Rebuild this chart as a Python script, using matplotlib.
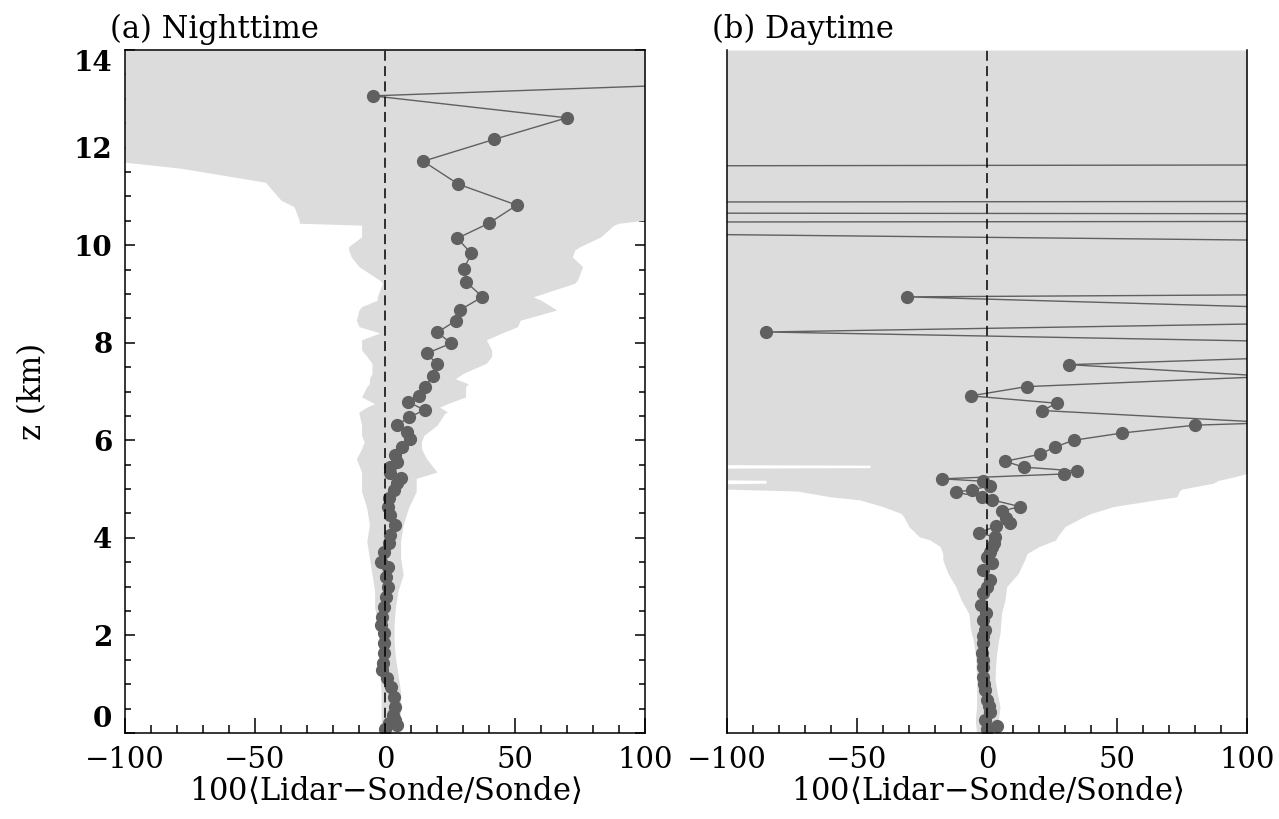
import numpy as np
import matplotlib.pyplot as plt
from matplotlib.ticker import MultipleLocator

plt.rcParams['font.family'] = 'DejaVu Serif'
plt.rcParams['mathtext.fontset'] = 'dejavuserif'

# ------------------------------------------------------------
# Nighttime profile: height (km) and 100*(lidar-sonde)/sonde
# (first value lies beyond the plotted range)
# ------------------------------------------------------------
night_z = [13.45, 13.06, 12.61, 12.17, 11.72, 11.25, 10.82, 10.45, 10.14, 9.83,
           9.52, 9.24, 8.94, 8.67, 8.45, 8.21, 7.99, 7.78, 7.56, 7.32,
           7.10, 6.91, 6.79, 6.62, 6.47, 6.31, 6.18, 6.02, 5.87, 5.70,
           5.56, 5.46, 5.32, 5.22, 5.12, 4.98, 4.81, 4.64, 4.47, 4.26,
           4.06, 3.89, 3.72, 3.51, 3.41, 3.20, 3.00, 2.79, 2.59, 2.38,
           2.21, 2.04, 1.84, 1.63, 1.43, 1.29, 1.12, 0.95, 0.74, 0.54,
           0.37, 0.27, 0.20, 0.16, 0.08]
night_dev = [200.0, -4.6, 69.9, 42.1, 14.7, 28.2, 50.7, 40.0, 27.8, 33.2,
             30.4, 31.3, 37.5, 28.8, 27.2, 20.1, 25.5, 16.0, 20.1, 18.6,
             15.2, 13.0, 8.8, 15.2, 9.2, 4.7, 8.3, 9.8, 6.6, 4.0,
             4.7, 1.9, 2.1, 6.0, 4.7, 3.4, 1.5, 1.1, 2.1, 4.0,
             1.9, 1.5, -0.2, -1.7, 1.1, 0.2, 1.1, 0.2, -0.2, -1.1,
             -1.7, -0.4, -0.2, -0.2, -0.7, -1.1, 0.8, 2.4, 3.4, 3.7,
             3.2, 4.0, 1.5, 4.7, 0.0]

# spread envelope (nighttime)
night_env_z = [14.0, 11.70, 11.58, 11.29, 10.92, 10.79, 10.51, 10.45, 10.41, 10.17,
               9.97, 9.90, 9.76, 9.56, 9.28, 9.22, 8.94, 8.87, 8.74, 8.67,
               8.46, 8.33, 8.20, 8.06, 7.85, 7.72, 7.58, 7.37, 7.26, 7.16,
               7.10, 6.89, 6.75, 6.68, 6.58, 6.55, 6.31, 6.10, 5.97, 5.83,
               5.62, 5.35, 5.22, 4.95, 4.61, 4.27, 3.93, 3.59, 3.25, 2.91,
               2.57, 2.23, 1.88, 1.54, 1.20, 0.85, 0.51, 0.0]
night_env_lo = [-100, -100, -79, -46, -40, -35, -33, -33, -9, -9,
                -14, -14, -13, -10, -2, -1, -3, -3, -9, -10,
                -11, -10, -2, -9, -9, -7, -5, -5, -6, -6,
                -7, -9, -4, -7, -10, -10, -9, -9, -8, -9,
                -11, -9, -9, -9, -7, -6, -7, -6, -5, -4,
                -4, -2.5, -2.5, -2.5, -2, -1.5, -1.5, -1.5]
night_env_hi = [100, 100, 100, 100, 100, 100, 100, 90, 88, 83,
                75, 73, 72, 76, 74, 73, 57, 60, 64, 66,
                52, 51, 45, 39, 41, 41, 39, 30, 27, 32,
                31, 31, 24, 21, 24, 23, 20, 15, 14, 14,
                16, 20, 12, 12, 9, 7, 6, 6, 7, 5,
                4, 3.5, 3.5, 4, 5, 6, 6, 6]

# ------------------------------------------------------------
# Daytime profile (values of +-200 lie beyond the plotted range)
# ------------------------------------------------------------
day_z = [11.62, 11.65, 10.90, 10.88, 10.66, 10.64, 10.49, 10.47, 10.27, 10.05,
         9.01, 8.94, 8.59, 8.47, 8.22, 7.94, 7.85, 7.55, 7.03, 7.51,
         7.10, 6.91, 6.76, 6.61, 6.36, 6.31, 6.15, 6.00, 5.86, 5.71,
         5.57, 5.45, 5.37, 5.31, 5.21, 5.16, 5.06, 4.99, 4.93, 4.84,
         4.78, 4.64, 4.55, 4.41, 4.31, 4.24, 4.10, 4.02, 3.89, 3.82,
         3.72, 3.61, 3.48, 3.34, 3.14, 3.00, 2.86, 2.62, 2.45, 2.32,
         2.11, 1.98, 1.84, 1.63, 1.50, 1.36, 1.15, 1.00, 0.88, 0.68,
         0.55, 0.44, 0.27, 0.14, 0.08]
day_dev = [-200.0, 200.0, 200.0, -200.0, -200.0, 200.0, 200.0, -200.0, -200.0, 200.0,
           200.0, -30.8, 200.0, 200.0, -85.1, 200.0, 200.0, 31.7, 200.0, 200.0,
           15.2, -6.3, 26.8, 21.3, 110.0, 80.0, 52.1, 33.3, 26.0, 20.2,
           6.9, 14.1, 34.5, 29.8, -17.2, -1.4, 1.2, -5.8, -11.9, -1.8,
           1.8, 12.7, 5.7, 7.4, 9.0, 3.5, -3.2, 3.1, 2.5, 1.8,
           1.0, -0.1, 1.8, -1.4, 1.2, 0.0, -1.7, -2.4, -0.4, -1.4,
           -0.8, -1.5, -1.7, -2.0, -1.6, -1.4, -1.7, -1.2, -0.8, -0.1,
           0.6, 1.2, -0.8, 3.7, 0.0]

# spread envelope (daytime)
day_env_z = [14.0, 5.50, 5.49, 5.44, 5.43, 5.32, 5.25, 5.19, 5.18, 5.12,
             5.11, 5.00, 4.96, 4.84, 4.78, 4.64, 4.50, 4.43, 4.23, 4.02,
             3.96, 3.82, 3.68, 3.55, 3.27, 3.00, 2.73, 2.45, 2.18, 2.04,
             1.91, 1.63, 1.36, 1.09, 0.81, 0.54, 0.27, 0.0]
day_env_lo = [-100, -100, -45, -45, -100, -100, -100, -100, -85, -85,
              -100, -100, -73, -60, -49, -40, -33, -32, -30, -26,
              -22, -18, -17, -17, -15, -12, -10, -7, -6.5, -6,
              -5.3, -4.5, -4.2, -4, -4, -4, -4.5, -4]
day_env_hi = [100, 100, 100, 100, 100, 100, 95, 90, 89, 87,
              86, 75, 74, 73, 65, 48.5, 40, 37, 30, 27,
              26.5, 20, 15.4, 14.5, 12, 7.6, 6.9, 5.6, 5.2, 5.0,
              4.5, 3.7, 3.3, 3.1, 4, 5, 4.4, 5]

titles = ['(a) Nighttime', '(b) Daytime']
xlabel = r'100$\langle$Lidar$-$Sonde/Sonde$\rangle$'
z_ticks = [0, 2, 4, 6, 8, 10, 12, 14]

fill_col = '#dcdcdc'
mark_col = '#606060'

fig = plt.figure(figsize=(12.79, 8.19), dpi=100)
ax1 = fig.add_axes([125/1279, 1 - 733/819, 520/1279, 683/819])
ax2 = fig.add_axes([727/1279, 1 - 733/819, 520/1279, 683/819])

panels = [(ax1, night_z, night_dev, night_env_z, night_env_lo, night_env_hi),
          (ax2, day_z, day_dev, day_env_z, day_env_lo, day_env_hi)]

for i, (ax, z, dev, ez, elo, ehi) in enumerate(panels):
    ax.set_axisbelow(True)
    ax.fill_betweenx(ez, elo, ehi, color=fill_col, lw=0, zorder=1)
    ax.plot(dev, z, '-', color=mark_col, lw=1.0, marker='o', ms=8.5,
            mec=mark_col, mfc=mark_col, zorder=3)
    ax.axvline(0, color='black', lw=1.1, ls=(0, (6.5, 3.5)), zorder=4)

    ax.set_xlim(-100, 100)
    ax.set_ylim(0, 14)
    ax.xaxis.set_major_locator(MultipleLocator(50))
    ax.xaxis.set_minor_locator(MultipleLocator(10))
    ax.set_yticks(z_ticks)
    ax.yaxis.set_minor_locator(MultipleLocator(0.5))
    ax.tick_params(axis='x', which='major', direction='in', length=11, width=1.1,
                   top=False, labelsize=21, pad=9)
    ax.tick_params(axis='x', which='minor', direction='in', length=6, width=1.1,
                   top=False)
    for s in ax.spines.values():
        s.set_linewidth(1.1)
        s.set_zorder(5)

    ax.set_xlabel(xlabel, fontsize=22, labelpad=1)
    ax.annotate(titles[i], xy=(0, 1), xycoords='axes fraction',
                xytext=(-15, 12), textcoords='offset pixels',
                ha='left', va='baseline', fontsize=22)

ax1.tick_params(axis='y', which='major', direction='in', length=7.5, width=1.1,
                left=True, right=True, labelsize=20, pad=9)
ax1.tick_params(axis='y', which='minor', direction='in', length=4.5, width=1.1,
                left=True, right=True)
ylabs = ax1.get_yticklabels()
for lab in ylabs:
    lab.set_fontweight('bold')
ylabs[0].set_va('bottom')
ylabs[-1].set_va('top')

ax2.tick_params(axis='y', which='both', left=False, right=False, labelleft=False)
ax2.spines['top'].set_visible(False)

fig.text(33/1279, 1 - 391/819, 'z (km)', rotation=90, ha='center', va='center',
         fontsize=22)

fig.savefig('out.png', dpi=100)
